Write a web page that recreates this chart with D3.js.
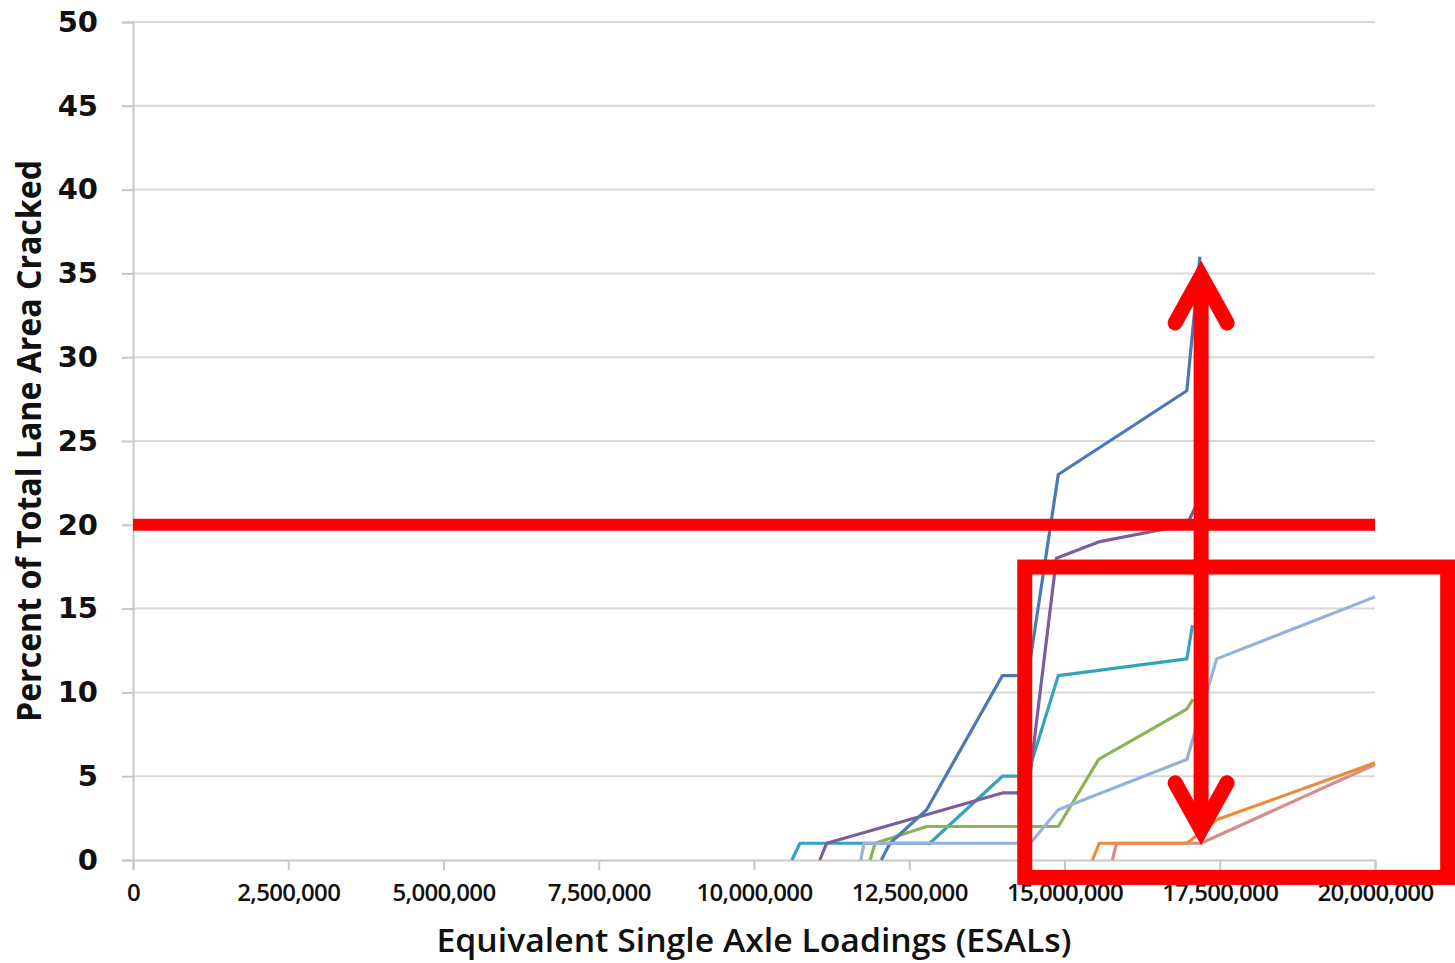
<!DOCTYPE html>
<html>
<head>
<meta charset="utf-8">
<script src="https://cdn.jsdelivr.net/npm/d3@7"></script>
<style>
  body { margin: 0; background: #fff; }
</style>
</head>
<body>
<div id="chart"></div>
<script>
// ESALs in millions, percent cracked
var darkBlue = [[12.05,0],[12.19,1],[12.78,3],[14.0,11],[14.41,11],[14.9,23],[16.97,28],[17.18,36]];
var purple = [[11.06,0],[11.17,1],[14.0,4],[14.41,4],[14.87,18],[15.57,19],[16.97,20],[17.1,21]];
var teal = [[10.61,0],[10.74,1],[12.83,1],[14.0,5],[14.4,5],[14.9,11],[16.97,12],[17.06,14]];
var green = [[11.87,0],[11.95,1],[12.78,2],[14.9,2],[15.55,6],[16.97,9],[17.07,9.6]];
var lightBlue = [[11.72,0],[11.77,1],[14.45,1],[14.9,3],[16.97,6],[17.45,12],[20,15.7]];
var orange = [[15.45,0],[15.56,1],[16.97,1],[17.45,2.4],[20,5.8]];
var pink = [[15.77,0],[15.84,1],[17.2,1],[20,5.7]];

var seriesList = [
    {data: teal, color: '#35A2BE'},
    {data: green, color: '#8DB255'},
    {data: purple, color: '#7A5E9E'},
    {data: darkBlue, color: '#4A7AB4'},
    {data: pink, color: '#D58E8C'},
    {data: orange, color: '#EE8A3C'},
    {data: lightBlue, color: '#95B2DA'}
];

var xTicks = [0, 2.5, 5, 7.5, 10, 12.5, 15, 17.5, 20];
var yTicks = [0, 5, 10, 15, 20, 25, 30, 35, 40, 45, 50];

// annotations (data units)
var thresholdValue = 20;
var arrowX = 17.2, arrowTop = 35.8, arrowBottom = 0.85;
var boxX0 = 14.36, boxX1 = 21.17, boxY0 = 17.48, boxY1 = -1.04;

var width = 1455;
var height = 963;
var svg = d3.select("#chart")
    .append("svg")
    .attr("width", width)
    .attr("height", height)

var x = d3.scaleLinear().domain([0, 20]).range([133, 1375]);
var y = d3.scaleLinear().domain([0, 50]).range([860, 22]);

// grid
svg.append('g').selectAll('line').data(yTicks.slice(1))
    .enter().append('line')
    .attr('x1', x(0)).attr('x2', x(20))
    .attr('y1', d => y(d)).attr('y2', d => y(d))
    .attr('stroke', '#D9D9D9')
    .attr('stroke-width', 2)

// y axis
var yAxis = svg.append('g')
    .attr('transform', 'translate(' + x(0) + ',0)')
    .call(d3.axisLeft(y).tickValues(yTicks).tickSize(11).tickPadding(24))
yAxis.select('.domain').attr('stroke', '#C8C8C8').attr('stroke-width', 2)
yAxis.selectAll('.tick line').attr('stroke', '#C8C8C8').attr('stroke-width', 2)
yAxis.selectAll('.tick text')
    .attr('font-family', 'DejaVu Sans')
    .attr('font-weight', 'bold')
    .attr('font-size', 29)
    .attr('fill', '#111')

// x axis
var xAxis = svg.append('g')
    .attr('transform', 'translate(0,' + y(0) + ')')
    .call(d3.axisBottom(x).tickValues(xTicks).tickSize(10).tickPadding(14)
        .tickFormat(d => d3.format(',')(d * 1e6)))
xAxis.select('.domain').attr('stroke', '#C8C8C8').attr('stroke-width', 2)
xAxis.selectAll('.tick line').attr('stroke', '#C8C8C8').attr('stroke-width', 2)
xAxis.selectAll('.tick text')
    .attr('font-family', 'Open Sans')
    .attr('font-weight', 600)
    .attr('font-size', 24)
    .attr('fill', '#111')
    .attr('letter-spacing', -0.7)

// series
var line = d3.line().x(d => x(d[0])).y(d => y(d[1]));
svg.append('g').selectAll('path').data(seriesList)
    .enter().append('path')
    .attr('d', d => line(d.data))
    .attr('fill', 'none')
    .attr('stroke', d => d.color)
    .attr('stroke-width', 3.2)
    .attr('stroke-linejoin', 'round')

// titles
svg.append('text')
    .attr('x', x(10)).attr('y', 952)
    .attr('text-anchor', 'middle')
    .attr('font-family', 'Open Sans')
    .attr('font-weight', 600)
    .attr('font-size', 33)
    .attr('textLength', 635)
    .attr('lengthAdjust', 'spacingAndGlyphs')
    .attr('fill', '#111')
    .text('Equivalent Single Axle Loadings (ESALs)')

svg.append('text')
    .attr('transform', 'translate(41,441) rotate(-90)')
    .attr('text-anchor', 'middle')
    .attr('font-family', 'Open Sans')
    .attr('font-weight', 700)
    .attr('font-size', 34)
    .attr('textLength', 562)
    .attr('lengthAdjust', 'spacingAndGlyphs')
    .attr('fill', '#111')
    .text('Percent of Total Lane Area Cracked')

// annotations
var ann = svg.append('g').attr('stroke', '#FF0000').attr('fill', 'none');
ann.append('line')
    .attr('x1', x(0)).attr('x2', x(20))
    .attr('y1', y(thresholdValue)).attr('y2', y(thresholdValue))
    .attr('stroke-width', 12)

ann.append('rect')
    .attr('x', x(boxX0)).attr('y', y(boxY0))
    .attr('width', x(boxX1) - x(boxX0))
    .attr('height', y(boxY1) - y(boxY0))
    .attr('stroke-width', 15)

var ax = x(arrowX);
var tipT = y(arrowTop) + 16, tipB = y(arrowBottom) - 16;
ann.append('line')
    .attr('x1', ax).attr('x2', ax)
    .attr('y1', tipT).attr('y2', tipB)
    .attr('stroke-width', 15)
ann.append('polyline')
    .attr('points', [[ax - 26, tipT + 47], [ax, tipT], [ax + 26, tipT + 47]].join(' '))
    .attr('stroke-width', 15)
    .attr('stroke-linecap', 'round')
    .attr('stroke-linejoin', 'miter')
ann.append('polyline')
    .attr('points', [[ax - 26, tipB - 47], [ax, tipB], [ax + 26, tipB - 47]].join(' '))
    .attr('stroke-width', 15)
    .attr('stroke-linecap', 'round')
    .attr('stroke-linejoin', 'miter')
</script>
</body>
</html>
